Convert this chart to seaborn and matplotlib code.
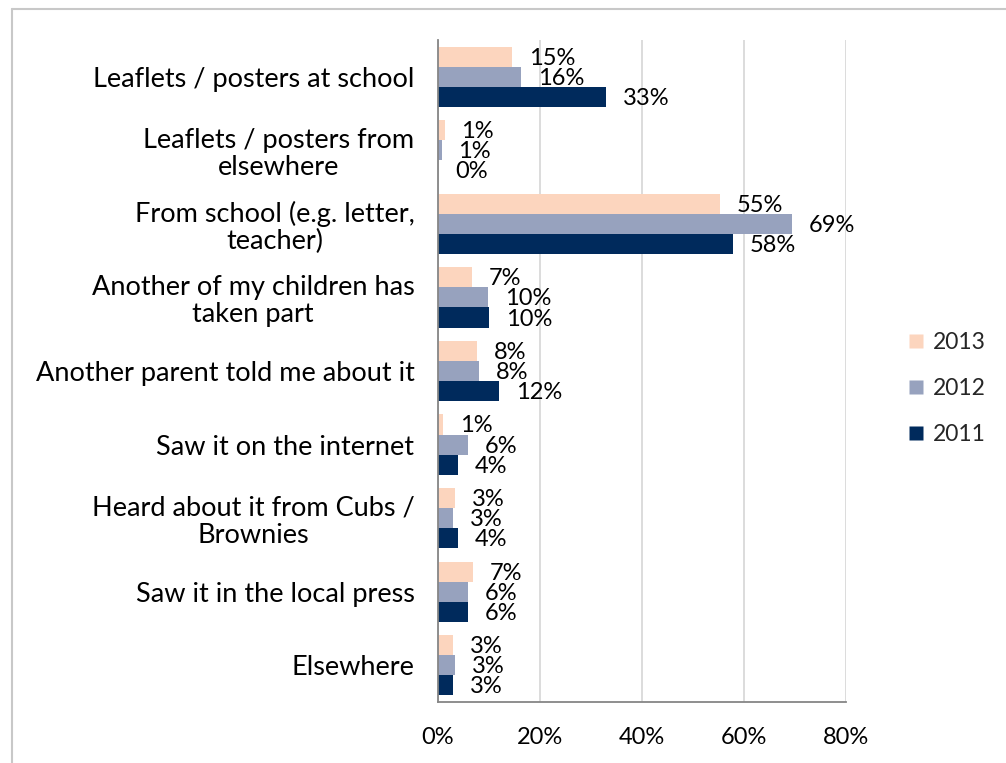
import pandas as pd
import matplotlib
matplotlib.use('Agg')
import matplotlib.pyplot as plt
import seaborn as sns
from matplotlib.lines import Line2D
from matplotlib.ticker import FuncFormatter, FixedLocator

# Data (percent)
categories = [
    'Leaflets / posters at school',
    'Leaflets / posters from\nelsewhere',
    'From school (e.g. letter,\nteacher)',
    'Another of my children has\ntaken part',
    'Another parent told me about it',
    'Saw it on the internet',
    'Heard about it from Cubs /\nBrownies',
    'Saw it in the local press',
    'Elsewhere',
]
years = ['2013', '2012', '2011']
vals_2013 = [14.6, 1.3, 55.3, 6.6, 7.7, 1.0, 3.3, 6.9, 2.9]
vals_2012 = [16.3, 0.7, 69.4, 9.8, 8.1, 5.8, 3.0, 5.8, 3.3]
vals_2011 = [32.9, 0.0, 57.9, 10.0, 12.0, 3.9, 3.9, 5.9, 2.9]
colors = ['#FCD5BE', '#97A2BE', '#002A5C']

data = pd.DataFrame({
    'Category': categories * 3,
    'Year': [y for y in years for _ in categories],
    'Value': vals_2013 + vals_2012 + vals_2011,
})

sns.set_style('white')
plt.rcParams['font.family'] = ['Lato', 'DejaVu Sans']

fig = plt.figure(figsize=(10.06, 7.63), dpi=100)
ax = fig.add_axes([438 / 1006, 1 - 702 / 763, (846 - 438) / 1006, (702 - 40) / 763])

sns.barplot(data=data, y='Category', x='Value', hue='Year', hue_order=years,
            palette=colors, orient='h', width=0.82, ax=ax, legend=False,
            edgecolor='none', saturation=1)

# value labels
for cont in ax.containers:
    for bar in cont:
        w = bar.get_width()
        ax.text(w + 3.3, bar.get_y() + bar.get_height() / 2 + 0.02, f'{w:.0f}%',
                va='center', ha='left', fontsize=17, color='black')

ax.set_xlim(0, 80)
ax.set_ylim(len(categories) - 0.5, -0.5)
ax.xaxis.set_major_locator(FixedLocator([0, 20, 40, 60, 80]))
ax.xaxis.set_major_formatter(FuncFormatter(lambda v, p: f'{v:.0f}%'))
ax.grid(axis='x', color='#D9D9D9', linewidth=1.3)
ax.set_axisbelow(True)
ax.set_xlabel('')
ax.set_ylabel('')

for s in ['top', 'right']:
    ax.spines[s].set_visible(False)
for s in ['left', 'bottom']:
    ax.spines[s].set_color('#868686')
    ax.spines[s].set_linewidth(1.3)

ax.set_yticks(range(len(categories)))
ax.set_yticklabels(categories, fontsize=19.5, multialignment='center', color='black',
                   linespacing=1.1)
ax.tick_params(axis='y', which='major', length=0, pad=17)
ax.set_yticks([i - 0.5 for i in range(len(categories) + 1)], minor=True)
ax.tick_params(axis='y', which='minor', length=6, color='#868686', width=1.3, direction='out')
ax.tick_params(axis='x', length=6, color='#868686', width=1.3, direction='out',
               labelsize=17, labelcolor='black', pad=12)

handles = [Line2D([0], [0], marker='s', linestyle='none', markersize=10,
                  markerfacecolor=c, markeredgecolor='none') for c in colors]
fig.legend(handles, years, loc='center left', bbox_to_anchor=(0.892, 0.4905),
           frameon=False, fontsize=16.5, handletextpad=0.35, labelspacing=1.08,
           handlelength=0.8, borderaxespad=0)

# light border around the chart
fig.add_artist(Line2D([12 / 1006, 12 / 1006], [0, 1 - 9 / 763], color='#C8C8C8', linewidth=1.5))
fig.add_artist(Line2D([12 / 1006, 1], [1 - 9 / 763, 1 - 9 / 763], color='#C8C8C8', linewidth=1.5))

fig.savefig('out.png', dpi=100)
